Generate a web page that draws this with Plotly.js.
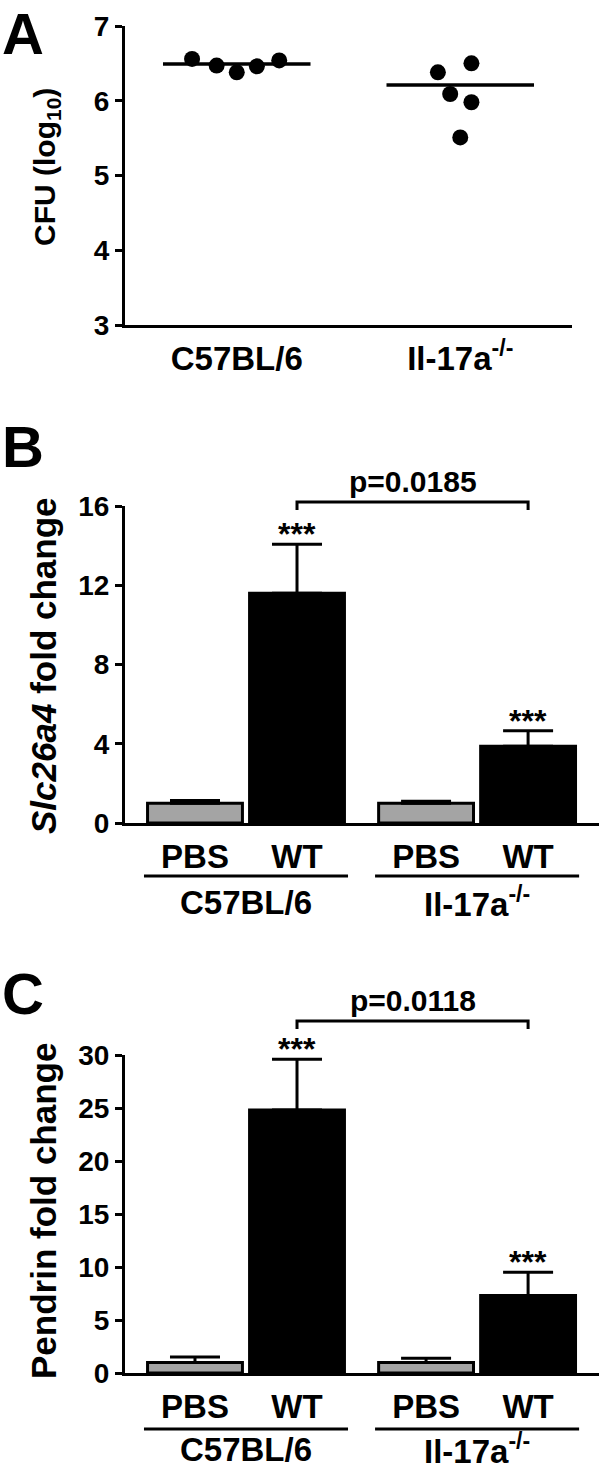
<!DOCTYPE html>
<html>
<head>
<meta charset="utf-8">
<script src="https://cdn.plot.ly/plotly-3.0.1.min.js"></script>
<style>
  html, body { margin: 0; padding: 0; background: #fff; }
  #chart { width: 600px; height: 1466px; }
</style>
</head>
<body>
<div id="chart"></div>
<script>
// panel A - CFU (log10) per mouse
const strainsA = ["C57BL/6", "Il-17a<sup>-/-</sup>"];
const cfuC57 = [6.56, 6.47, 6.38, 6.46, 6.54];
const cfuIl17 = [6.38, 6.50, 6.09, 5.98, 5.51];
const cfuMean = [6.49, 6.21];

// panel B + C - fold change
const treatments = ["PBS", "WT", "PBS", "WT"];
const strains = ["C57BL/6", "Il-17a<sup>-/-</sup>"];
const slcMean = [1.0, 11.6, 1.0, 3.88];
const slcErr = [0.13, 2.47, 0.1, 0.78];
const pendMean = [1.0, 24.8, 1.0, 7.3];
const pendErr = [0.5, 4.8, 0.4, 2.2];
const stars = ["", "***", "", "***"];
const pSlc = "p=0.0185";
const pPend = "p=0.0118";

const W = 600, H = 1466;
const px = (x) => x / W;
const py = (y) => 1 - y / H;

const FONT = "Liberation Sans, Arial, sans-serif";
const bold = (size) => ({ family: FONT, size: size, color: "#000", weight: "bold" });

// jitter of the dots in panel A
const jitter = [
  [-0.2, -0.09, 0, 0.09, 0.19],
  [-0.1, 0.05, -0.045, 0.05, 0],
];

// bar positions: 2 strains x 2 treatments
const groupStep = 2.265;
const barPos = treatments.map((t, i) => Math.floor(i / 2) * groupStep + (i % 2));
const barColors = treatments.map((t) => (t === "PBS" ? "#a4a4a4" : "#000000"));

const data = [];

// panel A
[cfuC57, cfuIl17].forEach((vals, g) => {
  data.push({
    x: vals.map((v, i) => g + jitter[g][i]),
    y: vals,
    type: "scatter",
    mode: "markers",
    marker: { color: "#000", size: 16 },
    cliponaxis: false,
    xaxis: "x",
    yaxis: "y",
  });
  data.push({
    x: [g - 0.33, g + 0.33],
    y: [cfuMean[g], cfuMean[g]],
    type: "scatter",
    mode: "lines",
    line: { color: "#000", width: 3.5 },
    xaxis: "x",
    yaxis: "y",
  });
});

function barTrace(means, errs, ax) {
  return {
    x: barPos,
    y: means,
    type: "bar",
    width: 0.93,
    marker: { color: barColors, line: { color: "#000", width: 3 } },
    error_y: {
      type: "data",
      symmetric: false,
      array: errs,
      arrayminus: errs.map(() => 0),
      color: "#000",
      thickness: 3,
      width: 25,
    },
    cliponaxis: false,
    xaxis: "x" + ax,
    yaxis: "y" + ax,
  };
}
data.push(barTrace(slcMean, slcErr, 2));
data.push(barTrace(pendMean, pendErr, 3));

const baseAxis = {
  showline: true,
  linewidth: 3,
  linecolor: "#000",
  showgrid: false,
  zeroline: false,
  fixedrange: true,
};
const yAxisStyle = Object.assign({}, baseAxis, {
  ticks: "outside",
  ticklen: 7,
  tickwidth: 3,
  tickcolor: "#000",
  tickfont: bold(28),
});
const xAxisStyle = Object.assign({}, baseAxis, {
  ticks: "",
  tickfont: bold(33),
  ticklabelstandoff: 2,
});

const layout = {
  width: W,
  height: H,
  margin: { l: 0, r: 0, t: 0, b: 0 },
  paper_bgcolor: "#fff",
  plot_bgcolor: "#fff",
  showlegend: false,
  font: bold(28),
  bargap: 0,
  xaxis: Object.assign({}, xAxisStyle, {
    domain: [px(125), px(572)],
    range: [-0.5, 1.5],
    tickvals: [0, 1],
    ticktext: strainsA,
    anchor: "y",
  }),
  yaxis: Object.assign({}, yAxisStyle, {
    domain: [py(325), py(26)],
    range: [3, 7],
    dtick: 1,
    anchor: "x",
  }),
  xaxis2: Object.assign({}, xAxisStyle, {
    domain: [px(125), px(599)],
    range: [-0.686, 3.96],
    tickvals: barPos,
    ticktext: treatments,
    anchor: "y2",
  }),
  yaxis2: Object.assign({}, yAxisStyle, {
    domain: [py(823), py(506)],
    range: [0, 16],
    tickvals: [0, 4, 8, 12, 16],
    anchor: "x2",
  }),
  xaxis3: Object.assign({}, xAxisStyle, {
    domain: [px(125), px(599)],
    range: [-0.686, 3.96],
    tickvals: barPos,
    ticktext: treatments,
    anchor: "y3",
  }),
  yaxis3: Object.assign({}, yAxisStyle, {
    domain: [py(1373), py(1055)],
    range: [0, 30],
    dtick: 5,
    anchor: "x3",
  }),
  shapes: [],
  annotations: [],
};

// panel letters
[["A", 33], ["B", 447], ["C", 993]].forEach(([t, y]) => {
  layout.annotations.push({
    text: t, xref: "paper", yref: "paper", x: 0, y: py(y),
    xanchor: "left", yanchor: "middle", showarrow: false, font: bold(58),
  });
});

// y titles
[
  ["CFU (log<sub>10</sub>)", 167, 47, 30],
  ["<i>Slc26a4</i> fold change", 666, 43, 35],
  ["Pendrin fold change", 1211, 43, 35],
].forEach(([t, y, x, s]) => {
  layout.annotations.push({
    text: t, xref: "paper", yref: "paper", x: px(x), y: py(y),
    xanchor: "center", yanchor: "middle", textangle: -90,
    showarrow: false, font: bold(s),
  });
});

// strain underlines, strain labels, brackets, stars for B and C
[
  { ax: 2, means: slcMean, errs: slcErr, p: pSlc, lineY: 876, labY: 902, brY: 502, pY: 481 },
  { ax: 3, means: pendMean, errs: pendErr, p: pPend, lineY: 1429, labY: 1449, brY: 1021, pY: 1000 },
].forEach((pn) => {
  const xr = "x" + pn.ax;
  strains.forEach((s, g) => {
    const a = barPos[g * 2], b = barPos[g * 2 + 1];
    layout.shapes.push({
      type: "line", xref: xr, yref: "paper",
      x0: a - 0.5, x1: b + 0.5, y0: py(pn.lineY), y1: py(pn.lineY),
      line: { color: "#000", width: 3 },
    });
    layout.annotations.push({
      text: s, xref: xr, yref: "paper", x: (a + b) / 2, y: py(pn.labY),
      xanchor: "center", yanchor: "middle", showarrow: false, font: bold(33),
    });
  });
  const x1 = barPos[1], x2 = barPos[3];
  const yT = py(pn.brY), yD = py(pn.brY + 8);
  layout.shapes.push({
    type: "path", xref: xr, yref: "paper",
    path: `M ${x1},${yD} L ${x1},${yT} L ${x2},${yT} L ${x2},${yD}`,
    line: { color: "#000", width: 3 },
  });
  layout.annotations.push({
    text: pn.p, xref: xr, yref: "paper", x: (x1 + x2) / 2, y: py(pn.pY),
    xanchor: "center", yanchor: "middle", showarrow: false, font: bold(30),
  });
  stars.forEach((st, i) => {
    if (!st) return;
    layout.annotations.push({
      text: st, xref: xr, yref: "y" + pn.ax, x: barPos[i], y: pn.means[i] + pn.errs[i],
      xanchor: "center", yanchor: "bottom", yshift: -10, showarrow: false, font: bold(32),
    });
  });
});

Plotly.newPlot("chart", data, layout, { displayModeBar: false, staticPlot: true });
</script>
</body>
</html>
